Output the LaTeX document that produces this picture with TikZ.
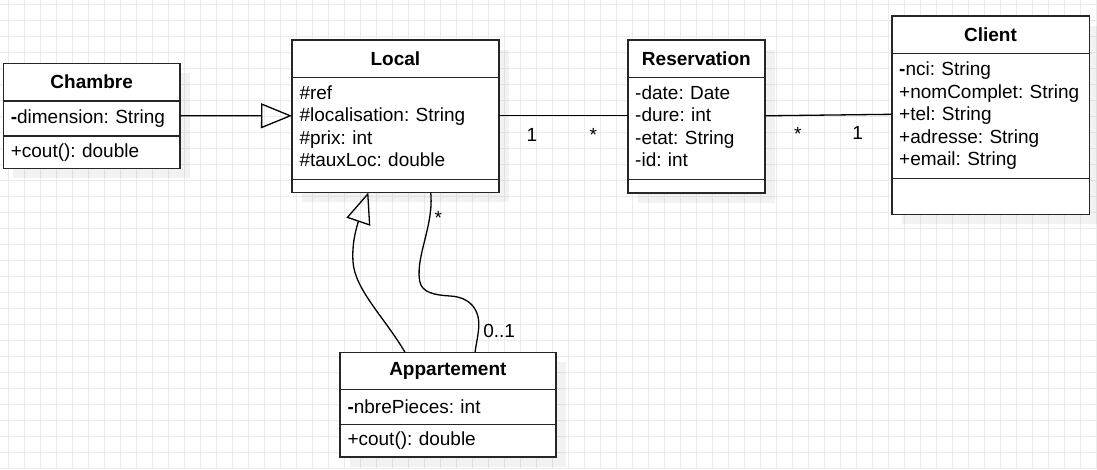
\documentclass[tikz,border=0pt]{standalone}
\usepackage{fontspec}
\setmainfont{Liberation Sans}
\usetikzlibrary{positioning,arrows.meta,backgrounds}
\frenchspacing

\begin{document}
\begin{tikzpicture}[x=1pt, y=-1pt, font=\fontsize{19}{22.6}\selectfont]
    \tikzstyle{cls} = [draw=black!85, fill=white, line width=1.6pt, outer sep=0pt,
    minimum height=37.4pt, font=\fontsize{19}{22.6}\selectfont\bfseries]
    \tikzstyle{part} = [draw=black!85, fill=white, line width=1.6pt, outer sep=0pt,
    align=left, inner xsep=7.5pt]
    \tikzstyle{inherit} = [line width=1.3pt, -{Triangle[open, length=31pt, width=25pt]}]
    \tikzstyle{assoc} = [line width=1.3pt]
    \tikzstyle{mult} = [inner sep=0pt, text height=13.6pt, text depth=0pt]
    \tikzstyle{gridline} = [black!8, line width=1pt]
    \tikzstyle{shade} = [black, opacity=0.05]
    \useasboundingbox (0,0) rectangle (1097,469);
    % classes
    \node[cls, minimum width=176.7pt, anchor=north west] (chambre) at (3.3,63.3) {Chambre};
    \node[part, text width=161.7pt, minimum height=35.3pt, below=0pt of chambre] (chambre-a) {\textbf{-}dimension: String};
    \node[part, text width=161.7pt, minimum height=32.3pt, below=0pt of chambre-a] (chambre-o) {+cout(): double};
    \node[cls, minimum width=206.7pt, anchor=north west] (local) at (292,40) {Local};
    \node[part, text width=191.7pt, text depth=72.4pt, minimum height=102pt, below=0pt of local] (local-a)
        {\#ref\\\#localisation: String\\\#prix: int\\\#tauxLoc: double};
    \node[part, text width=191.7pt, minimum height=13pt, below=0pt of local-a] (local-o) {};
    \node[cls, minimum width=137.3pt, anchor=north west] (reservation) at (627.7,40) {Reservation};
    \node[part, text width=122.3pt, text depth=72.4pt, minimum height=102pt, below=0pt of reservation] (reservation-a)
        {-date: Date\\-dure: int\\-etat: String\\-id: int};
    \node[part, text width=122.3pt, minimum height=13.4pt, below=0pt of reservation-a] (reservation-o) {};
    \node[cls, minimum width=197.6pt, minimum height=37.6pt, anchor=north west] (client) at (891.7,15.7) {Client};
    \node[part, text width=182.6pt, minimum height=125pt, below=0pt of client] (client-a)
        {\textbf{-}nci: String\\+nomComplet: String\\+tel: String\\+adresse: String\\+email: String};
    \node[part, text width=182.6pt, minimum height=36pt, below=0pt of client-a] (client-o) {};
    \node[cls, minimum width=215.7pt, minimum height=37pt, anchor=north west] (appartement) at (340,352.3) {Appartement};
    \node[part, text width=200.7pt, minimum height=35pt, below=0pt of appartement] (appartement-a) {\textbf{-}nbrePieces: int};
    \node[part, text width=200.7pt, minimum height=32.4pt, below=0pt of appartement-a] (appartement-o) {+cout(): double};
    % links
    \draw[inherit] ([yshift=2.65pt]chambre-a.east) -- ([yshift=12.6pt]local-a.west);
    \draw[assoc] ([yshift=12.6pt]local-a.east)
        -- node[mult, pos=0.258, anchor=north, yshift=-11pt] {1}
           node[mult, pos=0.733, anchor=north, yshift=-11pt] {*}
        ([yshift=12.6pt]reservation-a.west);
    \draw[assoc] ([yshift=12.6pt]reservation-a.east)
        -- node[mult, pos=0.258, anchor=north, yshift=-11pt] {*}
           node[mult, pos=0.732, anchor=north, yshift=-11pt] {1}
        ([yshift=1.5pt]client-a.west);
    \draw[inherit] ([xshift=-42.85pt]appartement.north) .. controls (385,318) and (355,290) .. (353,262)
        .. controls (352,245) and (355,233) .. (357.7,223.6) -- ([xshift=-27pt]local-o.south);
    \draw[assoc] ([xshift=35.35pt]local-o.south) node[mult, anchor=north west, xshift=3.3pt, yshift=-17.7pt] {*}
        .. controls (434,225) and (416,255) .. (419.5,280)
        .. controls (421,293) and (435,295) .. (450,296)
        .. controls (470,297) and (481,310) .. (478.5,330)
        .. controls (477.7,338) and (476,345) .. ([xshift=27.15pt]appartement.north)
        node[mult, anchor=south west, xshift=7.7pt, yshift=14pt] {0..1};
    % grid and shadows
    \begin{scope}[on background layer]
        \foreach \gx in {8,24,...,1096} \draw[gridline] (\gx,0) -- (\gx,469);
        \foreach \gy in {4,20,...,468} \draw[gridline] (0,\gy) -- (1097,\gy);
        \foreach \c in {chambre,local,reservation,client,appartement}
            \fill[shade] ([shift={(10,10)}]\c.north west) rectangle ([shift={(10,10)}]\c-o.south east);
    \end{scope}
\end{tikzpicture}
\end{document}
